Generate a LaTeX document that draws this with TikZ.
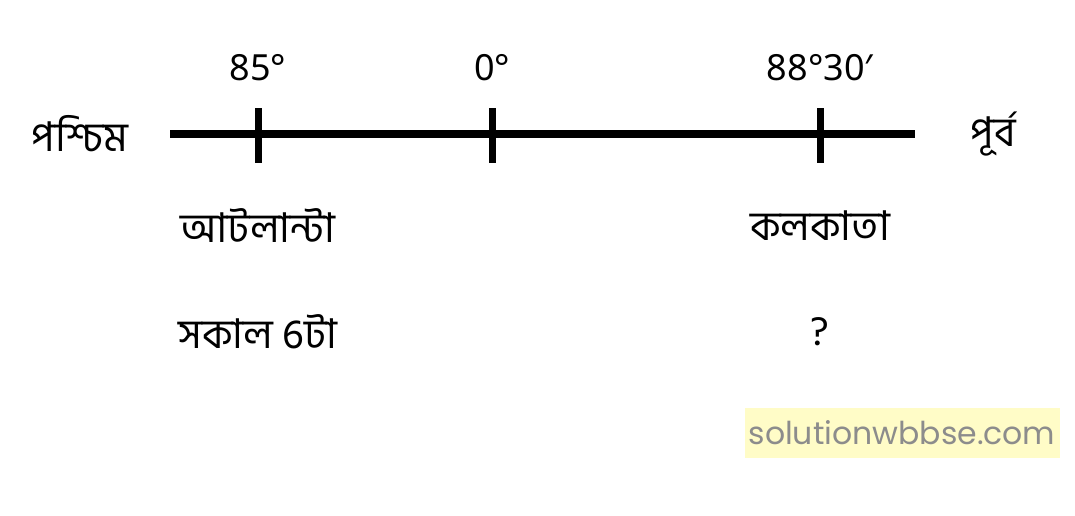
\documentclass[tikz,border=0pt]{standalone}
\usepackage{fontspec}
\setmainfont[Script=Bengali]{Hind Siliguri}
\newfontfamily\latfont{Noto Sans}
\newfontfamily\wmfont{Poppins}
\usetikzlibrary{calc}

\begin{document}
\begin{tikzpicture}[x=1pt,y=-1pt,font=\fontsize{41}{48}\selectfont]
\useasboundingbox (0,0) rectangle (1075,515);
\draw[line width=8pt] (170,134)coordinate (W)--(915,134)coordinate (E);
\node (west) at (80,134) {পশ্চিম};
\node (east) at (993,134) {পূর্ব};
\foreach \x/\n/\d in {258/at/85°,492/gr/0°,820/ko/88°30′} {
\draw[line width=7pt] (\x,108)coordinate (\n top)--(\x,163)coordinate (\n bot);
\node[font=\latfont\fontsize{36}{42}\selectfont] (\n deg) at (\x,68) {\d};}
\node (atcity) at (258,226) {আটলান্টা};
\node (kocity) at (820,226) {কলকাতা};
\node (attime) at (258,332) {সকাল 6টা};
\node (kotime) at (820,332) {?};
\node[fill=yellow!22,text=gray!90,minimum width=315pt,minimum height=50pt,inner sep=1pt,font=\wmfont\fontsize{31.5}{36}\selectfont] (wm) at (902,433) {solutionwbbse.com};
\end{tikzpicture}
\end{document}
